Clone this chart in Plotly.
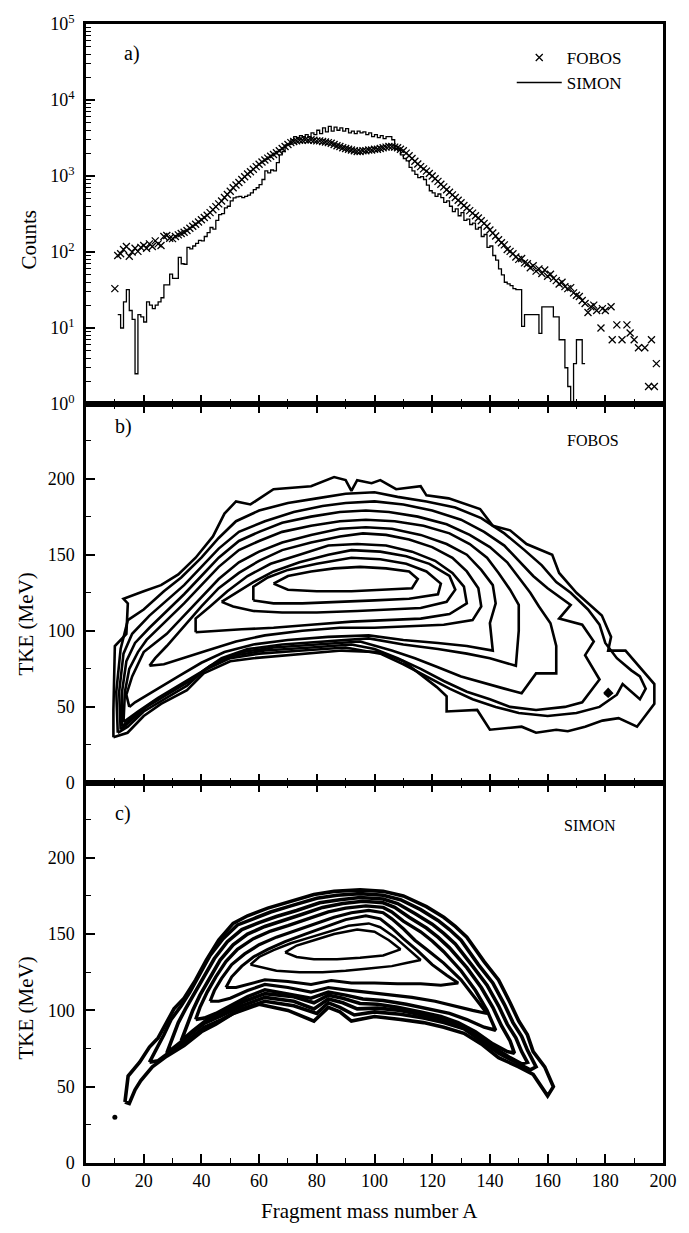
import plotly.graph_objects as go

FONT = "'Liberation Serif', 'DejaVu Serif', serif"

# ---------------- panel a) mass spectra ----------------
FOBOS_A = [10, 11, 12, 13, 14, 15, 16, 17, 18, 19, 20, 21, 22, 23, 24, 25, 26, 27, 28, 29,
           30, 31, 32, 33, 34, 35, 36, 37, 38, 39, 40, 41, 42, 43, 44, 45, 46, 47, 48, 49,
           50, 51, 52, 53, 54, 55, 56, 57, 58, 59, 60, 61, 62, 63, 64, 65, 66, 67, 68, 69,
           70, 71, 72, 73, 74, 75, 76, 77, 78, 79, 80, 81, 82, 83, 84, 85, 86, 87, 88, 89,
           90, 91, 92, 93, 94, 95, 96, 97, 98, 99, 100, 101, 102, 103, 104, 105, 106, 107, 108, 109,
           110, 111, 112, 113, 114, 115, 116, 117, 118, 119, 120, 121, 122, 123, 124, 125, 126, 127, 128, 129,
           130, 131, 132, 133, 134, 135, 136, 137, 138, 139, 140, 141, 142, 143, 144, 145, 146, 147, 148, 149,
           150, 151, 152, 153, 154, 155, 156, 157, 158, 159, 160, 161, 162, 163, 164, 165, 166, 167, 168, 169,
           170, 171, 172, 173, 174, 175, 176, 177,
           178.5, 179, 180, 182, 182.4, 184, 185.8, 187.5, 188.6, 190, 191.5, 193.7, 195, 196, 197, 197.7]
FOBOS_COUNTS = [33, 90, 95, 108, 118, 88, 100, 112, 102, 115, 122, 112, 128, 118, 140, 128, 122, 160, 165, 152,
                150, 160, 168, 175, 182, 192, 205, 218, 232, 248, 265, 285, 305, 330, 360, 395, 430, 470, 520, 570,
                630, 700, 760, 820, 900, 980, 1060, 1140, 1230, 1330, 1430, 1530, 1620, 1720, 1820, 1920, 2020, 2150, 2300, 2450,
                2600, 2750, 2850, 2900, 2950, 2950, 3000, 2950, 3000, 2950, 2900, 2900, 2850, 2800, 2750, 2700, 2600, 2500, 2450, 2350,
                2300, 2250, 2200, 2150, 2100, 2100, 2150, 2150, 2200, 2200, 2250, 2250, 2300, 2350, 2400, 2450, 2450, 2400, 2350, 2250,
                2150, 2000, 1850, 1700, 1560, 1440, 1330, 1240, 1160, 1080, 1000, 920, 850, 780, 720, 660, 610, 565, 520, 480,
                445, 410, 380, 350, 325, 300, 280, 258, 238, 218, 195, 178, 162, 145, 132, 124, 108, 102, 95, 86,
                80, 82, 72, 70, 62, 66, 56, 60, 52, 58, 48, 51, 45, 42, 38, 40, 35, 33, 34, 29,
                27, 26, 23, 21, 16, 19, 20, 17,
                10, 18, 17, 19, 7, 11, 7, 11, 8.6, 7, 5.5, 5.5, 1.7, 7, 1.7, 3.4]

SIMON_A = [11, 12, 13, 14, 15, 16, 17, 18, 19, 20, 21, 22, 23, 24, 25, 26, 27, 28, 29, 30,
           31, 32, 33, 34, 35, 36, 37, 38, 39, 40, 41, 42, 43, 44, 45, 46, 47, 48, 49, 50,
           51, 52, 53, 54, 55, 56, 57, 58, 59, 60, 61, 62, 63, 64, 65, 66, 67, 68, 69, 70,
           71, 72, 73, 74, 75, 76, 77, 78, 79, 80, 81, 82, 83, 84, 85, 86, 87, 88, 89, 90,
           91, 92, 93, 94, 95, 96, 97, 98, 99, 100, 101, 102, 103, 104, 105, 106, 107, 108, 109, 110,
           111, 112, 113, 114, 115, 116, 117, 118, 119, 120, 121, 122, 123, 124, 125, 126, 127, 128, 129, 130,
           131, 132, 133, 134, 135, 136, 137, 138, 139, 140, 141, 142, 143, 144, 145, 146, 147, 148, 149, 150,
           151, 152, 153, 154, 155, 156, 157, 158, 159, 160, 161, 162, 163, 164, 165, 166, 167, 168, 169, 170,
           171, 172, 173]
SIMON_COUNTS = [15, 10, 22, 32, 17, 13, 2.5, 15, 14, 12, 22, 20, 18, 20, 22, 25, 37, 37, 51, 45,
                45, 85, 70, 69, 115, 110, 120, 130, 142, 140, 160, 180, 210, 200, 260, 310, 320, 380, 400, 470,
                515, 530, 540, 520, 540, 560, 600, 660, 700, 770, 900, 1170, 1100, 1200, 1170, 1500, 1900, 2100, 2560, 2600,
                3000, 3300, 3200, 3400, 3300, 3500, 3300, 3700, 3500, 4000, 3600, 4300, 3800, 4500, 3900, 4400, 4000, 4300, 3900, 4200,
                3700, 3900, 3600, 3900, 3700, 3800, 3500, 3700, 3300, 3500, 3200, 3400, 3100, 3300, 3300, 3000, 2300, 2200, 1900, 1700,
                1580, 1300, 1170, 1050, 950, 980, 900, 760, 640, 600, 540, 580, 520, 450, 470, 400, 340, 370, 300, 330,
                260, 270, 230, 240, 200, 210, 160, 170, 115, 120, 90, 78, 60, 50, 40, 38, 36, 33, 32, 32,
                10.5, 15, 15, 15, 15, 15, 8.5, 19, 19, 19, 19, 14, 14, 7, 7, 3, 1.7, 0.3, 3.4, 7,
                7, 3.4, 3.4]

LOG_TICKS = [1, 10, 100, 1000, 10000, 100000]
LOG_TICKTEXT = ["10<sup>0</sup>", "10<sup>1</sup>", "10<sup>2</sup>", "10<sup>3</sup>", "10<sup>4</sup>", "10<sup>5</sup>"]
LOG_MINOR = [m * 10 ** d for d in range(5) for m in (2, 3, 4, 5, 6, 7, 8, 9)]
TKE_TICKS = [0, 50, 100, 150, 200]
A_TICKS = [0, 20, 40, 60, 80, 100, 120, 140, 160, 180, 200]

# ---------------- panel b) FOBOS contours (A, TKE) ----------------
FOBOS_L1 = [(9.5, 30), (9.5, 48), (10, 90), (14, 98), (14.5, 118), (13, 121), (20, 126), (26, 130), (32, 137),
            (38, 148), (44, 162), (48, 177), (52, 185), (57, 183), (65, 193), (78, 195), (86, 201), (90, 199),
            (92, 192), (94, 199), (99, 197), (102, 199), (107.5, 193), (116, 195), (118, 189), (125.7, 187),
            (136.6, 180), (141, 169), (147, 166), (152.7, 157), (161.6, 150), (164, 138), (170, 125), (178.8, 110),
            (182, 96), (181, 87), (187, 87), (197, 65), (197, 52), (191, 37), (184.6, 42.6), (179, 41), (173, 37),
            (167, 34), (163, 35), (156, 33), (151, 37), (140, 35), (135.6, 48), (125, 47), (125, 57), (121.6, 63),
            (110, 80), (102, 86), (88.7, 87), (71.6, 84), (58, 82), (50, 80), (40.8, 72), (35, 61), (26, 52),
            (20, 44), (14.4, 33), (9.5, 30)]
FOBOS_L2 = [(11, 33), (10.5, 60), (12, 88), (14.5, 107), (20, 114), (27, 126), (33, 135), (40, 148), (46, 161),
            (52, 172), (60, 179), (70, 184), (80, 187), (90, 190), (100, 191), (108, 188), (118, 185), (128, 181),
            (137, 174), (145, 164), (152, 153), (158, 143), (163, 132), (168, 125), (174, 114), (178, 104),
            (180, 92), (184, 82), (189, 74), (192, 70), (194, 62), (192, 55), (186, 65), (184, 58), (178, 50),
            (170, 46), (160, 44), (150, 46), (142, 50), (134, 55), (126, 62), (118, 70), (110, 78), (102, 85),
            (90, 89), (75, 87), (60, 85), (50, 82), (41, 74), (35, 64), (27, 55), (20, 47), (14.5, 37), (11, 33)]
FOBOS_L3 = [(12, 35), (11.5, 60), (13, 85), (16, 98), (22, 110), (28, 120), (34, 130), (40, 142), (46, 154),
            (53, 165), (62, 172), (72, 178), (82, 182), (90, 184), (100, 185), (110, 183), (120, 179), (130, 173),
            (138, 165), (145, 156), (150, 146), (155, 136), (160, 128), (165, 121), (168, 117), (164, 108),
            (172, 104), (176, 93), (173, 84), (178, 68), (172, 53), (166, 50), (156, 48), (147, 50), (140, 55),
            (132, 60), (124, 67), (116, 75), (108, 82), (100, 88), (92, 91), (78, 89), (62, 87), (52, 84),
            (43, 77), (36, 67), (28, 58), (21, 50), (15, 40), (12, 35)]
FOBOS_L4 = [(12.5, 37), (12.5, 60), (14, 80), (17, 92), (22, 102), (28, 113), (34, 124), (40, 136), (46, 148),
            (53, 159), (60, 165), (68, 171), (78, 175), (88, 178), (97, 179), (105, 178), (115, 175), (125, 170),
            (133, 163), (140, 155), (146, 145), (150, 135), (154, 125), (157, 116), (161, 105), (163, 90),
            (163, 72), (156, 72), (151, 59), (145, 62), (137, 66), (130, 70), (122, 76), (114, 82), (106, 87),
            (95, 93), (80, 91), (65, 89), (54, 86), (45, 79), (38, 70), (30, 61), (23, 53), (16, 43), (12.5, 37)]
FOBOS_L5 = [(13, 40), (13.5, 60), (15, 75), (18, 86), (21, 94), (28, 107), (34, 118), (40, 130), (46, 142),
            (53, 153), (60, 159), (68, 165), (78, 169), (88, 172), (97, 173), (107, 172), (117, 169), (126, 164),
            (133, 157), (139, 148), (143, 138), (147, 127), (150, 117), (150, 100), (149, 77), (140, 82),
            (132, 85), (122, 88), (110, 91), (98, 95), (82, 93), (68, 91), (56, 88), (47, 82), (40, 73), (32, 64),
            (25, 56), (18, 47), (13, 40)]
FOBOS_L6 = [(15, 50), (14, 58), (16, 70), (20, 86), (28, 98), (34, 110), (40, 122), (46, 134), (53, 145),
            (60, 152), (68, 158), (78, 163), (88, 167), (97, 168), (106, 167), (116, 163), (125, 157), (132, 150),
            (137, 140), (141, 130), (142, 118), (140, 105), (141, 87), (132, 90), (122, 92), (110, 94), (98, 97),
            (84, 96), (70, 94), (58, 91), (48, 86), (40, 79), (32, 70), (24, 61), (17, 53), (15, 50)]
FOBOS_L7 = [(22, 77), (24, 82), (28, 90), (34, 103), (40, 116), (46, 128), (53, 138), (60, 146), (68, 153),
            (78, 158), (88, 162), (96, 164), (104, 163), (112, 160), (120, 155), (127, 148), (132, 139),
            (136, 128), (137, 116), (134, 107), (124, 104), (112, 103), (100, 102), (88, 102), (75, 100),
            (62, 97), (52, 93), (42, 87), (34, 82), (27, 78), (22, 77)]
FOBOS_L8 = [(38, 99), (38, 108), (43, 116), (49, 126), (56, 136), (64, 144), (74, 150), (84, 156), (94, 157),
            (104, 156), (113, 152), (121, 146), (127, 138), (131, 129), (132, 118), (126, 111), (116, 108),
            (104, 107), (92, 106), (78, 104), (65, 102), (54, 101), (45, 100), (38, 99)]
FOBOS_L9 = [(47, 119), (52, 125), (58, 132), (65, 139), (74, 145), (84, 150), (92, 153), (102, 152), (111, 149),
            (119, 144), (126, 136), (128, 127), (125, 119), (116, 115), (106, 114), (94, 113), (80, 112),
            (68, 112), (58, 113), (51, 116), (47, 119)]
FOBOS_L10 = [(58, 120), (58, 129), (63, 135), (70, 140), (80, 144), (92, 148), (102, 147), (111, 144),
             (118, 139), (123, 131), (122, 124), (112, 121), (100, 120), (88, 119), (75, 118), (65, 118), (58, 120)]
FOBOS_L11 = [(65, 131), (70, 136), (78, 139), (86, 141), (95, 142), (104, 141), (112, 139), (115, 134),
             (113, 128), (104, 127), (92, 126), (80, 126), (70, 127), (65, 131)]
FOBOS_SPOT = [(179.5, 59), (181, 62), (182.5, 59), (181, 56.5), (179.5, 59)]

# ---------------- panel c) SIMON contours (A, TKE) ----------------
SIMON_L1 = [(13.5, 40), (14.6, 57), (18.6, 66), (22, 76), (25, 82), (28, 92), (30.5, 101), (34, 108), (38, 120),
            (41.7, 133), (46, 146), (51, 157), (56, 162), (63, 167), (70, 171), (79, 176), (86, 178), (95, 179),
            (103, 178), (110, 175), (118, 168), (124, 161), (128, 155), (132, 148), (138, 132), (143, 120),
            (147, 105), (150, 93), (153, 84), (155, 73), (159, 63), (162, 50), (160, 44), (155, 58), (150, 63),
            (143, 69), (137, 78), (131, 85), (124, 89), (117, 92), (109, 94), (100, 96), (92, 93), (88, 99),
            (84, 102), (79, 93), (70, 100), (60, 104), (51, 98), (45, 91), (40, 86), (34, 77), (28, 70), (23, 63),
            (19, 54), (17, 48), (15, 39), (13.5, 40)]
SIMON_L2 = [(22, 66), (24, 73), (27, 84), (29.5, 94), (33, 103), (36, 112), (39.5, 124), (43, 136), (47.5, 147),
            (52.5, 156), (58, 160), (64, 164.5), (71, 168.5), (80, 173.5), (87, 175.5), (95, 176.5), (103, 175.5),
            (109, 172.5), (116, 166), (122, 159), (126, 153), (130, 146), (136, 130), (141, 118), (145, 104),
            (148, 92), (151, 83), (153, 74), (156, 63), (154, 61), (149, 66), (143, 72), (137, 80), (131, 88),
            (124, 92), (117, 95), (109, 97.5), (100, 99), (93, 97), (88, 102), (84, 105), (80, 98), (72, 103),
            (62, 106), (54, 101), (47, 94), (41, 89), (35, 80), (30, 74), (25, 67), (22, 66)]
SIMON_L3 = [(28, 72), (29.5, 80), (32, 92), (34.5, 101), (37.5, 111), (41, 122.5), (44.5, 134), (49, 145),
            (54, 153), (60, 157.5), (66, 161.5), (73, 165.5), (81, 170.5), (88, 172.5), (95, 174), (103, 173),
            (108, 170), (114, 163.5), (120, 156.5), (124, 150.5), (128, 143.5), (134, 129), (139, 116.5),
            (143, 103), (146, 91), (149, 82), (151, 73), (153, 66), (151, 65), (147, 69), (142, 75), (136, 83),
            (130, 90), (124, 94), (117, 97), (109, 100), (101, 101.5), (94, 101), (89, 105), (84, 107.5),
            (79, 101), (72, 106), (62, 108.5), (54, 103), (47, 96.5), (41, 91.5), (35, 82.5), (30, 75), (28, 72)]
SIMON_L4 = [(33, 80), (34.5, 88), (37, 100), (39.5, 110), (43, 122), (46.5, 133), (51, 143), (56, 150), (62, 155),
            (68, 158.5), (75, 163), (82, 167.5), (89, 170), (96, 171.5), (103, 170.5), (107, 167.5), (112, 161),
            (118, 154), (122, 148), (126, 141), (132, 128), (137, 115), (141, 102), (144, 90), (147, 80),
            (148.5, 72), (146, 73), (141, 78), (135, 86), (129, 92), (123, 96), (116, 99), (108, 102), (101, 104),
            (95, 104.5), (89, 108), (84, 110), (79, 105), (72, 109), (62, 111), (55, 106), (48, 99), (42, 94),
            (37, 86.5), (33, 80)]
SIMON_L5 = [(38, 94), (39.5, 102), (42, 112), (45, 122), (48.5, 132), (52.5, 140), (58, 147), (64, 152),
            (70, 155.5), (77, 160), (84, 164.5), (90, 167), (97, 168.5), (103, 167.5), (106, 164.5), (110, 158.5),
            (116, 151.5), (120, 145.5), (124, 138.5), (130, 126), (135, 113), (139, 100), (142, 87), (138, 89),
            (132, 94), (126, 98), (119, 101), (111, 104), (103, 106.5), (96, 107.5), (90, 110), (84, 112),
            (78, 108), (70, 111), (62, 113.5), (56, 109), (50, 103), (45, 98), (41, 95), (38, 94)]
SIMON_L6 = [(43, 106), (44.5, 113), (47, 121), (50.5, 130), (55, 137), (60, 143), (66, 148), (72, 152),
            (79, 156.5), (86, 161), (92, 164), (98, 165.5), (103, 164), (106, 160), (110, 153.5), (114, 146),
            (118, 140), (124, 131), (130, 120), (135, 108), (139, 98), (134, 100), (128, 103), (121, 106),
            (113, 108.5), (105, 110.5), (97, 112), (90, 113.5), (84, 115), (78, 112), (70, 115), (62, 117),
            (56, 113), (50, 108), (46, 106), (43, 106)]
SIMON_L7 = [(48.5, 115), (50.5, 122), (54, 129), (58, 135), (63, 140), (69, 145), (76, 150), (83, 155),
            (90, 159.5), (97, 162), (102, 160), (106, 154), (110, 147), (115, 139), (120, 130), (125, 123),
            (129, 118), (123, 116.5), (116, 117.5), (108, 117.5), (100, 118), (92, 118), (85, 119.5), (78, 117),
            (70, 119), (62, 120), (56, 117), (52, 115), (48.5, 115)]
SIMON_L8 = [(57, 130), (60, 135), (65, 139.5), (71, 144), (78, 148), (85, 152), (91, 155.5), (98, 157),
            (102, 154.5), (107, 148), (112, 140), (116, 133), (111, 131), (106, 129), (98, 127.5), (90, 126),
            (82, 125), (74, 125), (66, 126), (61, 128), (57, 130)]
SIMON_L9 = [(69, 138), (73, 142.5), (79, 146), (86, 150), (94, 153), (100, 151.5), (105, 146), (109, 140),
            (103, 136), (95, 134.5), (87, 133.5), (79, 133.5), (73, 135), (69, 138)]
SIMON_SPOT = [(10, 30)]

FOBOS_CONTOURS = [FOBOS_L1, FOBOS_L2, FOBOS_L3, FOBOS_L4, FOBOS_L5, FOBOS_L6,
                  FOBOS_L7, FOBOS_L8, FOBOS_L9, FOBOS_L10, FOBOS_L11]
SIMON_CONTOURS = [SIMON_L1, SIMON_L2, SIMON_L3, SIMON_L4, SIMON_L5, SIMON_L6,
                  SIMON_L7, SIMON_L8, SIMON_L9]
SIMON_WIDTHS = [3.6, 3.6, 3.6, 3.6, 3.4, 3.2, 3.0, 2.5, 2.5]

# ---------------- figure ----------------
W, H = 689, 1233
ML, MR, MT, MB = 86, 14, 15, 70
PW, PH = W - ML - MR, H - MT - MB


def px(x):
    return (x - ML) / PW


def py(y):
    return (H - MB - y) / PH


fig = go.Figure()

fig.add_trace(go.Scatter(
    x=FOBOS_A, y=FOBOS_COUNTS, mode="markers", name="FOBOS",
    marker=dict(symbol="x-thin", size=7, color="black", line=dict(width=1.3, color="black")),
    xaxis="x", yaxis="y", cliponaxis=True))
fig.add_trace(go.Scatter(
    x=SIMON_A, y=SIMON_COUNTS, mode="lines", name="SIMON",
    line=dict(shape="hv", color="black", width=1.3),
    xaxis="x", yaxis="y"))

for c in FOBOS_CONTOURS:
    fig.add_trace(go.Scatter(x=[p[0] for p in c], y=[p[1] for p in c], mode="lines",
                             line=dict(color="black", width=2.6), showlegend=False,
                             hoverinfo="skip", xaxis="x2", yaxis="y2"))
fig.add_trace(go.Scatter(x=[p[0] for p in FOBOS_SPOT], y=[p[1] for p in FOBOS_SPOT], mode="lines",
                         fill="toself", fillcolor="black", line=dict(color="black", width=1.5),
                         showlegend=False, hoverinfo="skip", xaxis="x2", yaxis="y2"))

for c, w in zip(SIMON_CONTOURS, SIMON_WIDTHS):
    fig.add_trace(go.Scatter(x=[p[0] for p in c], y=[p[1] for p in c], mode="lines",
                             line=dict(color="black", width=w), showlegend=False,
                             hoverinfo="skip", xaxis="x3", yaxis="y3"))
fig.add_trace(go.Scatter(x=[p[0] for p in SIMON_SPOT], y=[p[1] for p in SIMON_SPOT], mode="markers",
                         marker=dict(size=5, color="black"), showlegend=False,
                         hoverinfo="skip", xaxis="x3", yaxis="y3"))

dA = py(398)
dB = py(780)

xcommon = dict(range=[0, 200], showline=True, linewidth=2.5, linecolor="black",
               ticks="inside", ticklen=9, tickwidth=1.5, tickcolor="black",
               tickvals=A_TICKS, showgrid=False, zeroline=False,
               minor=dict(dtick=10, tick0=0, ticks="inside", ticklen=5, tickwidth=1.3, tickcolor="black",
                          showgrid=False),
               tickfont=dict(family=FONT, size=18, color="black"))
ycommon = dict(showline=True, linewidth=2.5, linecolor="black", mirror=True,
               ticks="inside", ticklen=9, tickwidth=1.5, tickcolor="black",
               showgrid=False, zeroline=False, ticklabelstandoff=5,
               tickfont=dict(family=FONT, size=18, color="black"))

fig.update_layout(
    width=W, height=H, margin=dict(l=ML, r=MR, t=MT, b=MB),
    paper_bgcolor="white", plot_bgcolor="white",
    font=dict(family=FONT, color="black"),
    xaxis=dict(xcommon, domain=[0, 1], anchor="y", mirror=True, showticklabels=False),
    xaxis2=dict(xcommon, domain=[0, 1], anchor="y2", mirror="ticks", showticklabels=False),
    xaxis3=dict(xcommon, domain=[0, 1], anchor="y3", mirror="ticks", showticklabels=True),
    yaxis=dict(ycommon, domain=[dA, 1], anchor="x", type="log", range=[0, 5],
               tickvals=LOG_TICKS, ticktext=LOG_TICKTEXT,
               minor=dict(tickvals=LOG_MINOR, ticks="inside", ticklen=5, tickwidth=1.2,
                          tickcolor="black", showgrid=False)),
    yaxis2=dict(ycommon, domain=[dB, dA], anchor="x2", range=[0, 249], tickvals=TKE_TICKS,
                minor=dict(dtick=25, tick0=0, ticks="inside", ticklen=5, tickwidth=1.3,
                           tickcolor="black", showgrid=False)),
    yaxis3=dict(ycommon, domain=[0, dB], anchor="x3", range=[0, 249], tickvals=TKE_TICKS,
                minor=dict(dtick=25, tick0=0, ticks="inside", ticklen=5, tickwidth=1.3,
                           tickcolor="black", showgrid=False)),
    showlegend=True,
    legend=dict(x=px(638), xanchor="right", y=py(31), yanchor="top",
                font=dict(family=FONT, size=17, color="black"),
                bgcolor="rgba(0,0,0,0)", itemwidth=45, tracegroupgap=0),
)

ann = [
    ("a)", 133, 45, 20, 0),
    ("b)", 124, 421, 20, 0),
    ("c)", 124, 811, 20, 0),
    ("FOBOS", 604, 435, 16, 0),
    ("SIMON", 600, 823, 16, 0),
    ("Counts", 28, 232, 21, -90),
    ("TKE (MeV)", 25, 620, 21, -90),
    ("TKE (MeV)", 25, 1007, 21, -90),
    ("Fragment mass number A", 375, 1211, 21, 0),
]
for text, x, y, size, ang in ann:
    fig.add_annotation(text=text, x=px(x), y=py(y), xref="paper", yref="paper",
                       xanchor="center", yanchor="middle", showarrow=False, textangle=ang,
                       font=dict(family=FONT, size=size, color="black"))

fig.write_html("out.html", config={"displayModeBar": False})

# remove the browser's default page margin so the figure sits at the window origin
with open("out.html", "r", encoding="utf-8") as f:
    html = f.read()
html = html.replace("<body>", '<body style="margin:0;padding:0;overflow:hidden">', 1)
with open("out.html", "w", encoding="utf-8") as f:
    f.write(html)
